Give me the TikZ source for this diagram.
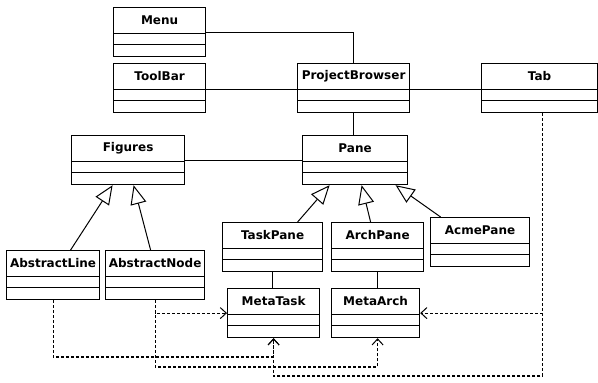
\documentclass[tikz,border=0pt]{standalone}
\usepackage{fontspec}
\setmainfont{DejaVu Sans}
\usetikzlibrary{arrows.meta}

\tikzset{
  cls/.style={draw, line width=1.2pt, minimum height=49pt, inner sep=0pt, anchor=north west},
  clsname/.style={font=\bfseries\fontsize{12}{14}\selectfont, inner sep=0pt},
  link/.style={line width=1.1pt},
  gen/.style={line width=1pt, -{Triangle[open, length=19pt, width=16pt, line width=1pt]}},
  dep/.style={line width=1.1pt, dash pattern=on 3pt off 2pt, -{Straight Barb[length=6pt, width=11pt, line width=1pt]}},
}

% class box: id, title, left, top, width
\newcommand\umlclass[5]{%
  \node[cls, minimum width=#5pt] (#1) at (#3,#4) {};
  \node[clsname] (#1-name) at ([yshift=-13pt]#1.north) {#2};
  \draw[link] ([yshift=-26.5pt]#1.north west) -- ([yshift=-26.5pt]#1.north east);
  \draw[link] ([yshift=-37.5pt]#1.north west) -- ([yshift=-37.5pt]#1.north east);
}

\begin{document}
\begin{tikzpicture}[x=1pt, y=-1pt]
  \fill[white] (0,0) rectangle (598,383);
  \useasboundingbox (0,0) rectangle (598,383);

  % classes
  \umlclass{menu}{Menu}{113}{7}{92}
  \umlclass{toolbar}{ToolBar}{113}{63}{92}
  \umlclass{pb}{ProjectBrowser}{297}{63}{112}
  \umlclass{tab}{Tab}{481}{63}{116}
  \umlclass{figures}{Figures}{71}{135}{113}
  \umlclass{pane}{Pane}{302}{135}{105}
  \umlclass{taskpane}{TaskPane}{222}{222}{100}
  \umlclass{archpane}{ArchPane}{331}{222}{92}
  \umlclass{acmepane}{AcmePane}{430}{217}{99}
  \umlclass{metatask}{MetaTask}{227}{288}{92}
  \umlclass{metaarch}{MetaArch}{331}{288}{88}
  \umlclass{absline}{AbstractLine}{6}{250}{93}
  \umlclass{absnode}{AbstractNode}{105}{250}{99}

  % associations
  \draw[link] (menu.east) -| (pb.north);
  \draw[link] ([yshift=-1.5pt]toolbar.east) -- ([yshift=-1.5pt]toolbar.east -| pb.west);
  \draw[link] ([yshift=-1.5pt]pb.east) -- ([yshift=-1.5pt]pb.east -| tab.west);
  \draw[link] (pb.south) -- (pb.south |- pane.north);
  \draw[link] (figures.east) -- (figures.east -| pane.west);
  \draw[link] (taskpane.south) -- (taskpane.south |- metatask.north);
  \draw[link] (archpane.south) -- (archpane.south |- metaarch.north);

  % generalisations
  \draw[gen] ([xshift=17.5pt]absline.north) -- ([xshift=-15.5pt]figures.south);
  \draw[gen] ([xshift=-4.5pt]absnode.north) -- ([xshift=5.5pt]figures.south);
  \draw[gen] ([xshift=25pt]taskpane.north) -- ([xshift=-25.5pt]pane.south);
  \draw[gen] ([xshift=-7pt]archpane.north) -- ([xshift=6.5pt]pane.south);
  \draw[gen] ([xshift=-39.5pt]acmepane.north) -- ([xshift=40.5pt]pane.south);

  % routing levels for the dependency lines
  \coordinate (lvlA) at (0,357);
  \coordinate (lvlB) at (0,367);
  \coordinate (lvlC) at (0,376);
  \coordinate (tabdrop) at ([xshift=3pt]tab.south);
  \coordinate (archin) at ([xshift=2pt]metaarch.south);

  % dependencies
  \draw[dep] (tabdrop) |- (metaarch.east);
  \draw[dep] (tabdrop) |- (metatask.south |- lvlC) -- (metatask.south);
  \draw[dep] (absline.south) |- (metatask.south |- lvlA) -- (metatask.south);
  \draw[dep] (absnode.south) |- (archin |- lvlB) -- (archin);
  \draw[dep] (absnode.south) |- (metatask.west);
\end{tikzpicture}
\end{document}
